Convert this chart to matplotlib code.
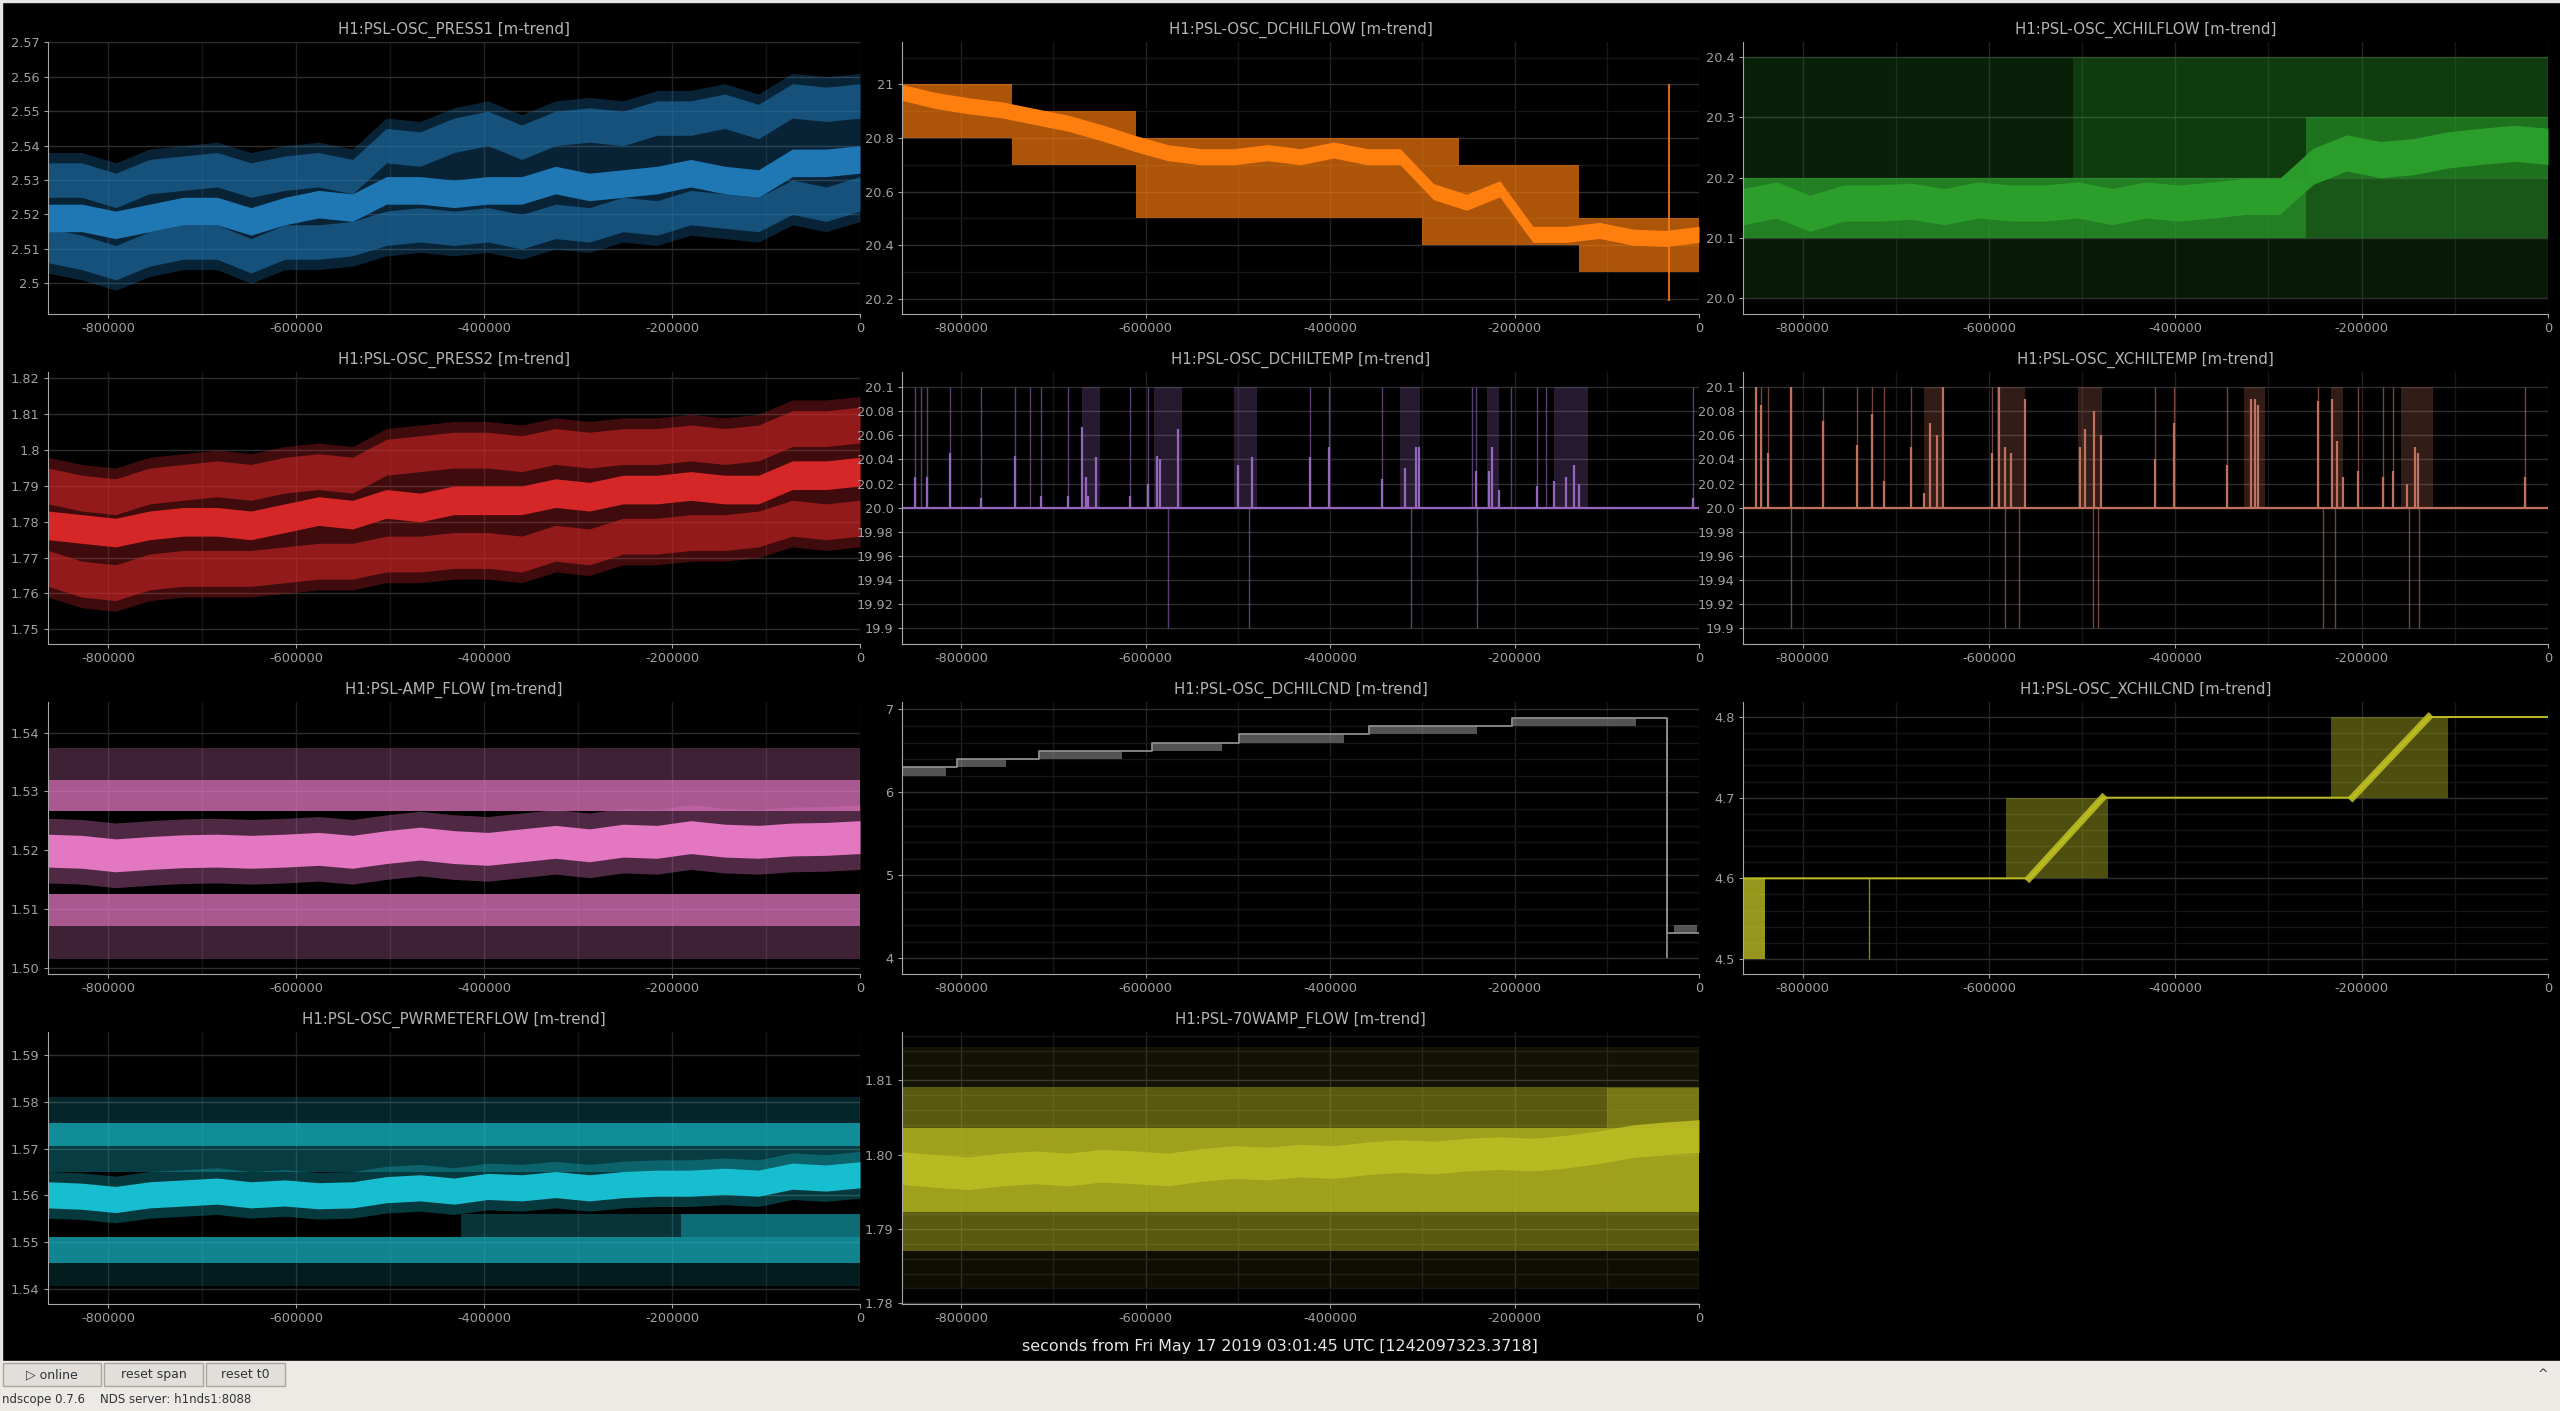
import matplotlib.pyplot as plt
from matplotlib.patches import Rectangle
from matplotlib.ticker import MultipleLocator
import numpy as np

plt.rcParams['font.family'] = ['DejaVu Sans']
plt.rcParams['axes.unicode_minus'] = False

W, H = 2560, 1411

# ---------------------------------------------------------------- data
# trend sample knots, seconds relative to t0
t_knots = [-864000, -828000, -792000, -756000, -720000, -684000, -648000,
           -612000, -576000, -540000, -504000, -468000, -432000, -396000,
           -360000, -324000, -288000, -252000, -216000, -180000, -144000,
           -108000, -72000, -36000, 0]
t_span = [-864000, 0]

# H1:PSL-OSC_PRESS1
press1_mean = [2.519, 2.519, 2.517, 2.519, 2.521, 2.521, 2.518, 2.521, 2.523,
               2.522, 2.527, 2.527, 2.526, 2.527, 2.527, 2.530, 2.528, 2.529,
               2.530, 2.532, 2.530, 2.529, 2.535, 2.535, 2.536]
press1_max = [2.530, 2.530, 2.527, 2.531, 2.532, 2.533, 2.530, 2.532, 2.533,
              2.531, 2.540, 2.539, 2.543, 2.545, 2.541, 2.545, 2.546, 2.545,
              2.548, 2.548, 2.550, 2.547, 2.553, 2.552, 2.553]
press1_min = [2.511, 2.509, 2.506, 2.510, 2.512, 2.512, 2.508, 2.512, 2.512,
              2.513, 2.516, 2.517, 2.516, 2.517, 2.515, 2.518, 2.517, 2.520,
              2.519, 2.522, 2.521, 2.520, 2.525, 2.523, 2.526]

# H1:PSL-OSC_PRESS2
press2_mean = [1.779, 1.778, 1.777, 1.779, 1.780, 1.780, 1.779, 1.781, 1.783,
               1.782, 1.785, 1.784, 1.786, 1.786, 1.786, 1.788, 1.787, 1.789,
               1.789, 1.790, 1.789, 1.789, 1.793, 1.793, 1.794]
press2_max = [1.790, 1.788, 1.787, 1.790, 1.791, 1.792, 1.791, 1.793, 1.794,
              1.793, 1.798, 1.799, 1.800, 1.800, 1.799, 1.801, 1.800, 1.801,
              1.801, 1.802, 1.801, 1.802, 1.806, 1.806, 1.807]
press2_min = [1.767, 1.764, 1.763, 1.766, 1.767, 1.767, 1.767, 1.768, 1.769,
              1.769, 1.771, 1.771, 1.772, 1.772, 1.771, 1.774, 1.773, 1.776,
              1.776, 1.777, 1.777, 1.778, 1.781, 1.780, 1.781]

# H1:PSL-OSC_DCHILFLOW (quantised 0.1 steps)
dflow_env_t = [-864000, -745000, -610000, -300000, -260000, -130000, 0]
dflow_env_lo = [20.8, 20.7, 20.5, 20.4, 20.4, 20.3, 20.3]
dflow_env_hi = [21.0, 20.9, 20.8, 20.8, 20.7, 20.5, 20.5]
dflow_mean = [20.97, 20.94, 20.92, 20.905, 20.88, 20.855, 20.82, 20.78, 20.745,
              20.73, 20.73, 20.745, 20.73, 20.755, 20.73, 20.73, 20.60, 20.56,
              20.61, 20.44, 20.44, 20.455, 20.43, 20.425, 20.44]
dflow_glitch = (-33000, 20.19, 21.0)

# H1:PSL-OSC_XCHILFLOW
xflow_mean = [20.152, 20.163, 20.141, 20.158, 20.158, 20.161, 20.152, 20.163,
              20.158, 20.158, 20.163, 20.152, 20.163, 20.158, 20.163, 20.169,
              20.169, 20.219, 20.241, 20.230, 20.235, 20.246, 20.252, 20.257,
              20.252]
# (start, end, low, high) of the min/max regions
xflow_regions = [(-864000, 0, 20.2, 20.4), (-510000, 0, 20.2, 20.4),
                 (-864000, 0, 20.0, 20.1), (-864000, -260000, 20.1, 20.2),
                 (-260000, 0, 20.1, 20.3)]

# H1:PSL-OSC_DCHILTEMP
dtemp_base = 20.0
dtemp_max_level = 20.1
dtemp_min_level = 19.9
dtemp_clusters = [(-669200, -649100), (-591100, -561000), (-504200, -478700),
                  (-324300, -302400), (-230200, -216600), (-156800, -120700)]
dtemp_max_spikes = [-850300, -843800, -837300, -812400, -778100, -741400,
                    -725400, -713000, -684000, -617200, -597000, -421900,
                    -400600, -343800, -245600, -241400, -203600, -175800,
                    -166300, -6500]
dtemp_min_spikes = [-575800, -488200, -312400, -240200]
dtemp_mean_t = [-850300, -837300, -812400, -778100, -741400, -713000, -684000,
                -669200, -664500, -662100, -653300, -617200, -597000, -587600,
                -584000, -564500, -499400, -484600, -421900, -400600, -343800,
                -318900, -307100, -303600, -241400, -227200, -224300, -216600,
                -175800, -156800, -144400, -135500, -129600, -6500]
dtemp_mean_v = [20.025, 20.025, 20.045, 20.008, 20.043, 20.010, 20.010, 20.067,
                20.025, 20.010, 20.042, 20.010, 20.020, 20.043, 20.040, 20.065,
                20.035, 20.042, 20.042, 20.050, 20.024, 20.033, 20.050, 20.050,
                20.030, 20.030, 20.050, 20.015, 20.018, 20.022, 20.025, 20.035,
                20.020, 20.008]

# H1:PSL-OSC_XCHILTEMP
xtemp_base = 20.0
xtemp_max_level = 20.1
xtemp_min_level = 19.9
xtemp_clusters = [(-669200, -649100), (-591100, -561600), (-504200, -478700),
                  (-326000, -303600), (-233100, -220100), (-158000, -123700)]
xtemp_max_spikes = [-850300, -845000, -836700, -813000, -778100, -741400,
                    -726000, -713000, -684000, -597000, -421900, -401200,
                    -344400, -247300, -203600, -176900, -166300, -24900]
xtemp_min_spikes = [-813000, -582900, -568000, -488200, -483400, -242000,
                    -228400, -149100, -138500]
xtemp_mean_t = [-850300, -845000, -836700, -813000, -778100, -741400, -726000,
                -713000, -684000, -669200, -663300, -656200, -649100, -597000,
                -589400, -582300, -576400, -561600, -502400, -496500, -487600,
                -479300, -421900, -401200, -344400, -318300, -314800, -311200,
                -247300, -231300, -226000, -220100, -203600, -176900, -166300,
                -151500, -142600, -139600, -24900]
xtemp_mean_v = [20.100, 20.085, 20.045, 20.100, 20.072, 20.052, 20.078, 20.022,
                20.050, 20.012, 20.070, 20.060, 20.100, 20.045, 20.100, 20.050,
                20.045, 20.090, 20.050, 20.065, 20.080, 20.060, 20.040, 20.070,
                20.035, 20.090, 20.090, 20.085, 20.088, 20.090, 20.055, 20.025,
                20.030, 20.025, 20.030, 20.020, 20.050, 20.045, 20.025]

# H1:PSL-AMP_FLOW
amp_mean = [1.5199, 1.5197, 1.5191, 1.5195, 1.5198, 1.5199, 1.5197, 1.5199,
            1.5202, 1.5197, 1.5205, 1.5211, 1.5205, 1.5202, 1.5208, 1.5214,
            1.5208, 1.5216, 1.5214, 1.5222, 1.5216, 1.5214, 1.5218, 1.5219,
            1.5222]
amp_levels = [(1.5320, 1.5373), (1.5267, 1.5320), (1.5070, 1.5126),
              (1.5015, 1.5070)]

# H1:PSL-OSC_DCHILCND
dcnd_step_t = [-864000, -804000, -716000, -593000, -499000, -358000, -203000,
               -35000, 0]
dcnd_step_v = [6.3, 6.4, 6.5, 6.6, 6.7, 6.8, 6.9, 4.3, 4.3]
dcnd_noise = [(-864000, -816000, 6.2, 6.3), (-804000, -751000, 6.3, 6.4),
              (-716000, -625000, 6.4, 6.5), (-593000, -517000, 6.5, 6.6),
              (-499000, -385000, 6.6, 6.7), (-358000, -241000, 6.7, 6.8),
              (-203000, -68000, 6.8, 6.9), (-27000, -2000, 4.3, 4.4)]
dcnd_drop = (-35000, 4.0, 6.9)

# H1:PSL-OSC_XCHILCND
xcnd_t = [-864000, -557000, -478000, -210000, -128000, 0]
xcnd_v = [4.6, 4.6, 4.7, 4.7, 4.8, 4.8]
xcnd_regions = [(-864000, -840000, 4.5, 4.6), (-582000, -472000, 4.6, 4.7),
                (-233000, -107000, 4.7, 4.8)]
xcnd_glitch = (-729000, 4.5, 4.6)

# H1:PSL-OSC_PWRMETERFLOW
pwr_mean = [1.5601, 1.5598, 1.5591, 1.5601, 1.5605, 1.5609, 1.5601, 1.5605,
            1.5599, 1.5601, 1.5612, 1.5616, 1.5609, 1.5619, 1.5616, 1.5623,
            1.5616, 1.5623, 1.5626, 1.5626, 1.5630, 1.5626, 1.5641, 1.5637,
            1.5644]
pwr_regions = [(-864000, 0, 1.5755, 1.5810), (-864000, 0, 1.5705, 1.5755),
               (-864000, 0, 1.5650, 1.5705), (-864000, 0, 1.5455, 1.5510),
               (-425000, 0, 1.5510, 1.5560), (-190000, 0, 1.5510, 1.5560),
               (-864000, 0, 1.5405, 1.5455)]

# H1:PSL-70WAMP_FLOW
w70_mean = [1.7982, 1.7978, 1.7975, 1.7980, 1.7983, 1.7980, 1.7985, 1.7983,
            1.7980, 1.7986, 1.7990, 1.7988, 1.7992, 1.7990, 1.7995, 1.7998,
            1.7996, 1.8000, 1.8002, 1.8000, 1.8004, 1.8010, 1.8018, 1.8022,
            1.8025]
w70_regions = [(-864000, 0, 1.8091, 1.8145), (-864000, 0, 1.8036, 1.8091),
               (-864000, 0, 1.7923, 1.8036), (-864000, 0, 1.7870, 1.7923),
               (-864000, 0, 1.7820, 1.7870), (-100000, 0, 1.8036, 1.8090)]

x_ticks = [-800000, -600000, -400000, -200000, 0]
x_labels = ['-800000', '-600000', '-400000', '-200000', '0']

# ---------------------------------------------------------------- figure
fig = plt.figure(figsize=(W / 100, H / 100), dpi=100, facecolor='black')

COLS = [(48, 860), (902, 1699), (1743, 2548)]
ROWS = [(42, 314), (372, 644), (702, 974), (1032, 1304)]

TXT = '#a0a0a0'


def make_axes(col, row, title, ylim, yticks, ylabels, yminor=None):
    x0, x1 = COLS[col]
    y0, y1 = ROWS[row]
    ax = fig.add_axes([x0 / W, 1 - y1 / H, (x1 - x0) / W, (y1 - y0) / H])
    ax.set_facecolor('black')
    ax.set_xlim(-864000, 0)
    ax.set_ylim(*ylim)
    ax.set_xticks(x_ticks)
    ax.set_xticklabels(x_labels)
    ax.xaxis.set_minor_locator(MultipleLocator(100000))
    ax.set_yticks(yticks)
    ax.set_yticklabels(ylabels)
    if yminor:
        ax.yaxis.set_minor_locator(MultipleLocator(yminor))
    ax.grid(which='major', axis='y', color='#2e2e2e', lw=1)
    ax.grid(which='major', axis='x', color='#222222', lw=1)
    ax.grid(which='minor', color='#161616', lw=1)
    ax.set_axisbelow(True)
    for s in ['top', 'right']:
        ax.spines[s].set_visible(False)
    for s in ['left', 'bottom']:
        ax.spines[s].set_color('#a8a8a8')
    ax.tick_params(which='major', colors=TXT, labelsize=9.3, length=3, pad=3)
    ax.tick_params(which='minor', length=0)
    ax.set_title(title, color='#b4b4b4', fontsize=10.8, pad=6)
    return ax


def fill(ax, t, lo, hi, color, alpha, step=None):
    ax.fill_between(t, lo, hi, color=color, alpha=alpha, lw=0, step=step)


def regions(ax, regs, color, alphas):
    for (a, b, lo, hi), al in zip(regs, alphas):
        fill(ax, [a, b], [lo, lo], [hi, hi], color, al)


def mean_band(ax, t, mean, half, color, alpha=1.0):
    m = np.asarray(mean)
    fill(ax, t, m - half, m + half, color, alpha)


def noisy(ax, mean, mn, mx, color, spread):
    mn, mx = np.asarray(mn), np.asarray(mx)
    fill(ax, t_knots, mn - 1.6 * spread, mx + 1.6 * spread, color, 0.3)
    fill(ax, t_knots, mn - spread, mn + spread, color, 0.55)
    fill(ax, t_knots, mx - spread, mx + spread, color, 0.55)
    mean_band(ax, t_knots, mean, 0.8 * spread, color, 1.0)


def spikes(ax, base, lvl_max, lvl_min, clusters, maxs, mins, mt, mv, color):
    for a, b in clusters:
        fill(ax, [a, b], [base, base], [lvl_max, lvl_max], color, 0.26)
    ax.vlines(maxs, base, lvl_max, color=color, lw=1.0, alpha=0.6)
    ax.vlines(mins, lvl_min, base, color=color, lw=1.0, alpha=0.6)
    ax.vlines(mt, base, mv, color=color, lw=1.6)
    ax.plot(t_span, [base, base], color=color, lw=1.6)


# row 1 -----------------------------------------------------------------
c = '#1f77b4'
ax = make_axes(0, 0, 'H1:PSL-OSC_PRESS1 [m-trend]', (2.4911, 2.5701),
               [2.50, 2.51, 2.52, 2.53, 2.54, 2.55, 2.56, 2.57],
               ['2.5', '2.51', '2.52', '2.53', '2.54', '2.55', '2.56', '2.57'])
noisy(ax, press1_mean, press1_min, press1_max, c, 0.005)

c = '#ff7f0e'
ax = make_axes(1, 0, 'H1:PSL-OSC_DCHILFLOW [m-trend]', (20.143, 21.158),
               [20.2, 20.4, 20.6, 20.8, 21.0],
               ['20.2', '20.4', '20.6', '20.8', '21'], yminor=0.1)
fill(ax, dflow_env_t, dflow_env_lo, dflow_env_hi, c, 0.68, step='post')
mean_band(ax, t_knots, dflow_mean, 0.03, c, 1.0)
ax.vlines(dflow_glitch[0], dflow_glitch[1], dflow_glitch[2], color=c, lw=1.2)

c = '#2ca02c'
ax = make_axes(2, 0, 'H1:PSL-OSC_XCHILFLOW [m-trend]', (19.974, 20.425),
               [20.0, 20.1, 20.2, 20.3, 20.4],
               ['20.0', '20.1', '20.2', '20.3', '20.4'])
regions(ax, xflow_regions, c, [0.2, 0.22, 0.16, 0.8, 0.55])
mean_band(ax, t_knots, xflow_mean, 0.03, c, 0.95)

# row 2 -----------------------------------------------------------------
c = '#d62728'
ax = make_axes(0, 1, 'H1:PSL-OSC_PRESS2 [m-trend]', (1.7459, 1.8218),
               [1.75, 1.76, 1.77, 1.78, 1.79, 1.80, 1.81, 1.82],
               ['1.75', '1.76', '1.77', '1.78', '1.79', '1.8', '1.81', '1.82'])
noisy(ax, press2_mean, press2_min, press2_max, c, 0.005)

temp_ticks = [19.9, 19.92, 19.94, 19.96, 19.98, 20.0, 20.02, 20.04, 20.06,
              20.08, 20.1]
temp_labels = ['19.9', '19.92', '19.94', '19.96', '19.98', '20.0', '20.02',
               '20.04', '20.06', '20.08', '20.1']

c = '#9467bd'
ax = make_axes(1, 1, 'H1:PSL-OSC_DCHILTEMP [m-trend]', (19.887, 20.1124),
               temp_ticks, temp_labels)
spikes(ax, dtemp_base, dtemp_max_level, dtemp_min_level, dtemp_clusters,
       dtemp_max_spikes, dtemp_min_spikes, dtemp_mean_t, dtemp_mean_v, c)

c = '#c0705f'
ax = make_axes(2, 1, 'H1:PSL-OSC_XCHILTEMP [m-trend]', (19.887, 20.1124),
               temp_ticks, temp_labels)
spikes(ax, xtemp_base, xtemp_max_level, xtemp_min_level, xtemp_clusters,
       xtemp_max_spikes, xtemp_min_spikes, xtemp_mean_t, xtemp_mean_v, c)

# row 3 -----------------------------------------------------------------
c = '#e377c2'
ax = make_axes(0, 2, 'H1:PSL-AMP_FLOW [m-trend]', (1.4989, 1.5452),
               [1.50, 1.51, 1.52, 1.53, 1.54],
               ['1.50', '1.51', '1.52', '1.53', '1.54'])
regions(ax, [(t_span[0], t_span[1], lo, hi) for lo, hi in amp_levels], c,
        [0.28, 0.75, 0.75, 0.28])
mean_band(ax, t_knots, amp_mean, 0.0055, c, 0.35)
mean_band(ax, t_knots, amp_mean, 0.0028, c, 1.0)

c = '#8c8c8c'
ax = make_axes(1, 2, 'H1:PSL-OSC_DCHILCND [m-trend]', (3.811, 7.088),
               [4, 5, 6, 7], ['4', '5', '6', '7'], yminor=0.2)
regions(ax, dcnd_noise, c, [0.6] * len(dcnd_noise))
ax.step(dcnd_step_t, dcnd_step_v, where='post', color=c, lw=1.3)
ax.vlines(dcnd_drop[0], dcnd_drop[1], dcnd_drop[2], color=c, lw=1.3)

c = '#bcbd22'
ax = make_axes(2, 2, 'H1:PSL-OSC_XCHILCND [m-trend]', (4.4814, 4.8186),
               [4.5, 4.6, 4.7, 4.8], ['4.5', '4.6', '4.7', '4.8'], yminor=0.02)
regions(ax, xcnd_regions, c, [0.8, 0.42, 0.42])
ax.plot(xcnd_t, xcnd_v, color=c, lw=1.4)
ax.plot(xcnd_t[1:3], xcnd_v[1:3], color=c, lw=5, alpha=0.9)
ax.plot(xcnd_t[3:5], xcnd_v[3:5], color=c, lw=5, alpha=0.9)
ax.vlines(xcnd_glitch[0], xcnd_glitch[1], xcnd_glitch[2], color=c, lw=1.0,
          alpha=0.7)

# row 4 -----------------------------------------------------------------
c = '#17becf'
ax = make_axes(0, 3, 'H1:PSL-OSC_PWRMETERFLOW [m-trend]', (1.5367, 1.5950),
               [1.54, 1.55, 1.56, 1.57, 1.58, 1.59],
               ['1.54', '1.55', '1.56', '1.57', '1.58', '1.59'])
regions(ax, pwr_regions, c, [0.2, 0.75, 0.32, 0.7, 0.28, 0.4, 0.15])
mean_band(ax, t_knots, pwr_mean, 0.005, c, 0.3)
mean_band(ax, t_knots, pwr_mean, 0.0028, c, 1.0)

c = '#bcbd22'
ax = make_axes(1, 3, 'H1:PSL-70WAMP_FLOW [m-trend]', (1.7799, 1.8165),
               [1.78, 1.79, 1.80, 1.81], ['1.78', '1.79', '1.80', '1.81'],
               yminor=0.002)
regions(ax, w70_regions, c, [0.1, 0.48, 0.85, 0.48, 0.08, 0.3])
mean_band(ax, t_knots, w70_mean, 0.0022, c, 0.9)

# common x label
fig.text(0.5, 1 - 1346 / H,
         'seconds from Fri May 17 2019 03:01:45 UTC [1242097323.3718]',
         ha='center', va='center', color='#e6e6e6', fontsize=11.4)

# window frame: thin light edge at top/left, status bar at bottom
fig.patches.append(Rectangle((0, 1 - 2 / H), 1, 2 / H, transform=fig.transFigure,
                             color='#e6e6e6', zorder=5))
fig.patches.append(Rectangle((0, 50 / H), 2 / W, 1, transform=fig.transFigure,
                             color='#e6e6e6', zorder=5))
fig.patches.append(Rectangle((0, 0), 1, 50 / H, transform=fig.transFigure,
                             color='#edeae6', zorder=5))

buttons = [('\u25b7 online', 3, 101), ('reset span', 104, 203),
           ('reset t0', 206, 285)]
for label, bx0, bx1 in buttons:
    fig.patches.append(Rectangle((bx0 / W, 25 / H), (bx1 - bx0) / W, 23 / H,
                                 transform=fig.transFigure, facecolor='#e2dfdb',
                                 edgecolor='#aaa59f', lw=1, zorder=6))
    fig.text((bx0 + bx1) / 2 / W, 36.5 / H, label, ha='center', va='center',
             fontsize=9, color='#2e3436', zorder=7)

fig.text(2 / W, 11 / H, 'ndscope 0.7.6    NDS server: h1nds1:8088',
         ha='left', va='center', fontsize=8.5, color='#2e3436', zorder=7)
fig.text(2543 / W, 36 / H, '^', ha='center', va='center', fontsize=9,
         color='#2e3436', zorder=7)

fig.savefig('out.png', dpi=100, facecolor='black')
